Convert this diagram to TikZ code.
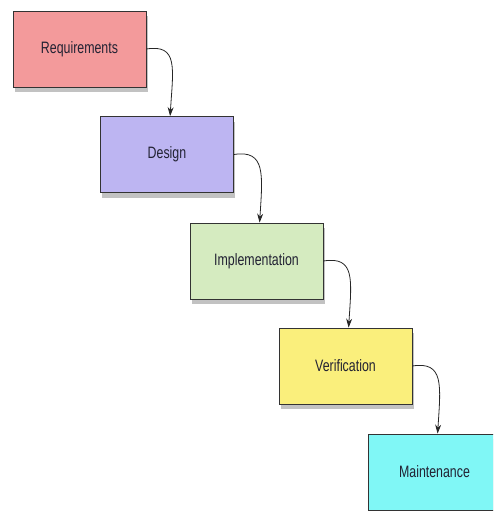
\documentclass[tikz,border=0pt]{standalone}
\usepackage{fontspec}
\setmainfont[FakeStretch=0.75]{Liberation Sans}
\usetikzlibrary{shadows,arrows.meta}
\definecolor{reqc}{HTML}{F39A9B}
\definecolor{desc}{HTML}{BDB5F2}
\definecolor{impc}{HTML}{D5EBC0}
\definecolor{verc}{HTML}{FAEF7C}
\definecolor{mntc}{HTML}{80F7F6}
\definecolor{txt}{HTML}{222233}
\tikzset{
 phase/.style={draw=black!80, line width=0.8pt, minimum width=133pt, minimum height=76pt, inner sep=0pt,
   font=\fontsize{16.5}{18}\selectfont, text=txt,
   drop shadow={shadow xshift=1.5pt, shadow yshift=-5pt, opacity=0.4, fill=black!60}},
 flow/.style={-{Stealth[length=9pt,width=6pt]}, line width=0.8pt, black!85}
}
\begin{document}
\begin{tikzpicture}[x=1pt,y=-1pt]
\useasboundingbox (0,0) rectangle (493,511);
\clip (0,0) rectangle (493,511);
\node[phase, fill=reqc] (r) at (79.5,49) {Requirements};
\node[phase, fill=desc] (d) at (167,154.5) {Design};
\node[phase, fill=impc] (i) at (256.5,261) {Implementation};
\node[phase, fill=verc] (v) at (345.5,366) {Verification};
\node[phase, fill=mntc] (m) at (434.5,472) {Maintenance};
\coordinate (t1) at ([xshift=70pt]d.north west);
\coordinate (t2) at ([xshift=70pt]i.north west);
\coordinate (t3) at ([xshift=70pt]v.north west);
\coordinate (t4) at ([xshift=70pt]m.north west);
\draw[flow] (r.east) .. controls +(32,-5) and +(3,-48) .. (t1);
\draw[flow] (d.east) .. controls +(32,-5) and +(3,-48) .. (t2);
\draw[flow] (i.east) .. controls +(32,-5) and +(3,-48) .. (t3);
\draw[flow] (v.east) .. controls +(32,-5) and +(3,-48) .. (t4);
\end{tikzpicture}
\end{document}
